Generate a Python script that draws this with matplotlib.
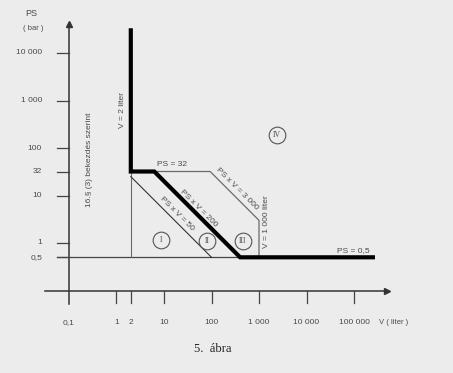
import numpy as np
import matplotlib
matplotlib.use('Agg')
import matplotlib.pyplot as plt

# Tick values and labels
x_ticks = [0.1, 1, 2, 10, 100, 1000, 10000, 100000]
x_labels = ['0,1', '1', '2', '10', '100', '1 000', '10 000', '100 000']
y_ticks = [0.5, 1, 10, 32, 100, 1000, 10000]
y_labels = ['0,5', '1', '10', '32', '100', '1 000', '10 000']

# Category borders (V in liter, PS in bar)
thick_v = [2, 2, 6.25, 400, 250000]
thick_ps = [30000, 32, 32, 0.5, 0.5]
limit_50_v = [2, 100]
limit_50_ps = [25, 0.5]
limit_3000_v = [6.25, 93.75, 1000, 1000]
limit_3000_ps = [32, 32, 3, 0.5]
v2_thin_v = [2, 2]
v2_thin_ps = [32, 0.5]
ps05_v = [10 ** -1.25, 400]
ps05_ps = [0.5, 0.5]

bg = '#ececec'
txt = '#4a4a4a'
thin = '#6a6a6a'
font = 'Liberation Sans'

fig = plt.figure(figsize=(4.53, 3.73), dpi=100, facecolor=bg)
ax = fig.add_axes([0, 0, 1, 1])
ax.set_facecolor(bg)
ax.set_xscale('log')
ax.set_yscale('log')
# 47.5 px per decade, V=0.1 at x=69px, PS=1 at y=243px
ax.set_xlim(10 ** (-1 - 69 / 47.5), 10 ** (-1 + (453 - 69) / 47.5))
ax.set_ylim(10 ** ((243 - 373) / 47.5), 10 ** (243 / 47.5))
ax.axis('off')

# axes with arrows
ax.plot([10 ** -1.505, 10 ** 5.66], [0.1, 0.1], color='#333333', lw=1.1)
ax.plot([10 ** 5.695], [0.1], marker='>', ms=4, color='#333333')
ax.plot([0.1, 0.1], [10 ** -1.284, 10 ** 4.58], color='#333333', lw=1.1)
ax.plot([0.1], [10 ** 4.61], marker='^', ms=4, color='#333333')

# ticks
for v, lab in zip(x_ticks, x_labels):
    if v > 0.1:
        ax.plot([v, v], [0.1, 10 ** -1.263], color='#444444', lw=0.9)
    ax.text(v, 10 ** -1.684, lab, ha='center', va='center', fontsize=6, color=txt, family=font)
for p, lab in zip(y_ticks, y_labels):
    ax.plot([10 ** -1.25, 0.1], [p, p], color='#444444', lw=0.9)
    ax.text(10 ** -1.568, p, lab, ha='right', va='center', fontsize=6, color=txt, family=font)

# thin border lines
ax.plot(ps05_v, ps05_ps, color='#444444', lw=0.9)
ax.plot(v2_thin_v, v2_thin_ps, color=thin, lw=0.8)
ax.plot(limit_50_v, limit_50_ps, color='#333333', lw=0.8)
ax.plot(limit_3000_v, limit_3000_ps, color=thin, lw=0.9)

# thick border
ax.plot(thick_v, thick_ps, color='black', lw=3, solid_joinstyle='miter')

# labels
ax.text(10 ** -1.8, 10 ** 4.842, 'PS', ha='center', va='center', fontsize=6.5, color=txt, family=font)
ax.text(10 ** -1.758, 10 ** 4.526, '( bar )', ha='center', va='center', fontsize=5.5, color=txt, family=font)
ax.text(10 ** 5.842, 10 ** -1.684, 'V ( liter )', ha='center', va='center', fontsize=5.5, color=txt, family=font)
ax.text(1.37, 631, 'V = 2 liter', rotation=90, ha='center', va='center', fontsize=6, color=txt, family=font)
ax.text(0.264, 56, '16.§ (3) bekezdés szerint', rotation=90, ha='center', va='center', fontsize=6, color=txt, family=font)
ax.text(14.7, 46, 'PS = 32', ha='center', va='center', fontsize=6, color=txt, family=font)
ax.text(54.6, 5.46, 'PS x V = 200', rotation=-45, rotation_mode='anchor', ha='center', va='center', fontsize=6, color=txt, family=font)
ax.text(18.8, 4.08, 'PS x V = 50', rotation=-45, rotation_mode='anchor', ha='center', va='center', fontsize=6, color=txt, family=font)
ax.text(344, 13.7, 'PS x V = 3 000', rotation=-45, rotation_mode='anchor', ha='center', va='center', fontsize=6, color=txt, family=font)
ax.text(1470, 2.77, 'V = 1 000 liter', rotation=90, ha='center', va='center', fontsize=6, color=txt, family=font)
ax.text(95000, 0.71, 'PS = 0,5', ha='center', va='center', fontsize=6, color=txt, family=font)

# category circles
cats = [('I', 8.6, 1.16), ('II', 80, 1.1), ('III', 460, 1.1), ('IV', 2390, 188)]
for name, v, p in cats:
    ax.plot([v], [p], marker='o', ms=12, mfc='none', mec='#555555', mew=0.8)
    ax.text(v, p, name, ha='center', va='center', fontsize=5.5, color=txt, family='Liberation Serif')

fig.text(213 / 453, 1 - 349 / 373, '5.  ábra', ha='center', va='center', fontsize=9, color='#222222', family='Liberation Serif')

fig.savefig('out.png', dpi=100, facecolor=bg)
